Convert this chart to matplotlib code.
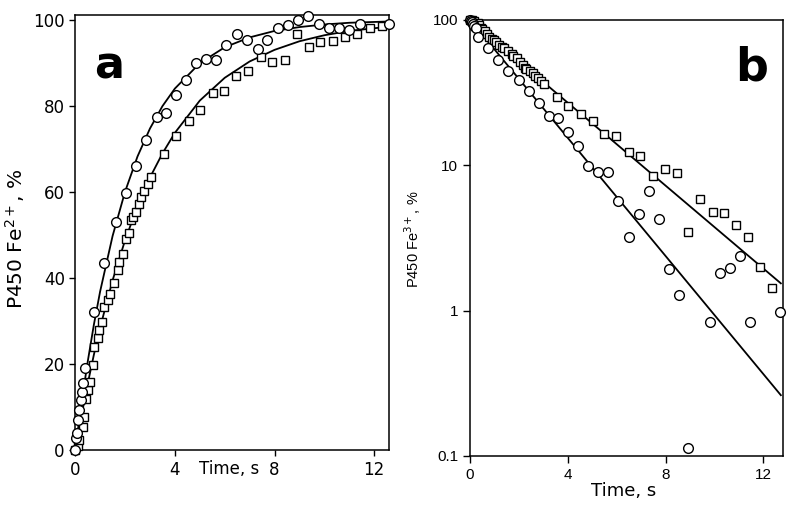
import matplotlib
matplotlib.use('Agg')
import matplotlib.pyplot as plt
import numpy as np

# panel a: reduction, % Fe2+
a_circ_t = [0.0, 0.04, 0.08, 0.13, 0.17, 0.24, 0.28, 0.32, 0.41, 0.77, 1.17, 1.64, 2.04, 2.44,
            2.84, 3.27, 3.64, 4.04, 4.44, 4.84, 5.24, 5.64, 6.04, 6.5, 6.9, 7.33, 7.7, 8.13,
            8.53, 8.93, 9.33, 9.8, 10.17, 10.57, 10.97, 11.41, 12.6]
a_circ_y = [0.0, 2.8, 4.0, 7.0, 9.3, 11.6, 13.6, 15.6, 19.2, 32.2, 43.6, 53.0, 59.8, 66.0,
            72.1, 77.4, 78.4, 82.6, 86.0, 90.0, 90.9, 90.7, 94.2, 96.9, 95.3, 93.2, 95.5, 98.2,
            98.8, 100.0, 100.9, 99.2, 98.1, 98.1, 97.8, 99.2, 99.0]
a_sq_t = [0.0, 0.1, 0.17, 0.31, 0.37, 0.44, 0.51, 0.61, 0.71, 0.77, 0.91, 0.97, 1.07, 1.17,
          1.31, 1.41, 1.57, 1.71, 1.77, 1.91, 2.04, 2.17, 2.24, 2.31, 2.44, 2.57, 2.64, 2.77,
          2.91, 3.04, 3.57, 4.04, 4.55, 5.01, 5.51, 5.97, 6.44, 6.93, 7.44, 7.91, 8.41, 8.91,
          9.37, 9.84, 10.35, 10.84, 11.31, 11.81, 12.31]
a_sq_y = [0.0, 1.0, 2.3, 5.4, 7.7, 12.0, 14.0, 15.9, 19.8, 24.0, 26.0, 27.9, 29.8, 33.2,
          35.0, 36.3, 38.8, 41.9, 43.8, 45.7, 49.0, 50.4, 53.5, 54.3, 55.4, 57.2, 58.9, 60.2,
          62.0, 63.6, 68.8, 73.0, 76.6, 79.1, 83.1, 83.6, 87.0, 88.1, 91.5, 90.3, 90.8, 96.7,
          93.8, 95.0, 95.2, 96.1, 96.7, 98.1, 98.6]
# fitted curves
a_fit_t = [0, 0.25, 0.5, 0.75, 1, 1.5, 2, 2.5, 3, 3.5, 4, 5, 6, 7, 8, 9, 10, 11, 12.6]
a_fit1_y = [0, 10.9, 20.5, 29.2, 36.9, 49.8, 60.1, 68.3, 74.8, 80.0, 84.1, 90.0, 93.7, 96.0,
            97.5, 98.4, 99.0, 99.4, 99.7]
a_fit2_y = [0, 8.0, 15.4, 22.2, 28.5, 39.5, 48.8, 56.7, 63.4, 69.0, 73.8, 81.3, 86.6, 90.4,
            93.1, 95.1, 96.5, 97.5, 98.5]

# panel b: remaining Fe3+, %
b_circ_t = [0.0, 0.04, 0.08, 0.13, 0.17, 0.24, 0.34, 0.74, 1.15, 1.55, 2.0, 2.4, 2.81, 3.24,
            3.61, 4.03, 4.43, 4.84, 5.24, 5.65, 6.05, 6.49, 6.93, 7.34, 7.74, 8.15, 8.55,
            8.92, 9.84, 10.24, 10.65, 11.05, 11.46, 12.68]
b_circ_y = [100, 98, 96, 93, 91, 88.4, 76.8, 63.9, 53.1, 44.8, 38.6, 32.6, 26.7, 21.8,
            21.1, 16.8, 13.6, 9.9, 9.0, 9.0, 5.7, 3.2, 4.6, 6.6, 4.3, 1.92, 1.28,
            0.114, 0.83, 1.81, 1.95, 2.38, 0.84, 0.98]
b_sq_t = [0.0, 0.07, 0.17, 0.31, 0.37, 0.44, 0.51, 0.61, 0.71, 0.77, 0.91, 0.97, 1.07, 1.17,
          1.31, 1.41, 1.57, 1.71, 1.77, 1.91, 2.04, 2.17, 2.24, 2.31, 2.44, 2.57, 2.64, 2.77,
          2.91, 3.04, 3.54, 4.03, 4.53, 5.03, 5.5, 5.99, 6.49, 6.96, 7.47, 7.97, 8.47, 8.92,
          9.43, 9.93, 10.41, 10.9, 11.39, 11.86, 12.36]
b_sq_y = [100, 99, 97.7, 94.6, 92.3, 88, 86, 84.1, 80.2, 76, 74, 72.1, 70.2, 66.8,
          65, 63.7, 61.2, 58.1, 56.2, 54.3, 51, 48.8, 46.5, 45.7, 44.6, 42.8, 41.1, 39.8,
          38, 36.4, 29.4, 25.6, 22.4, 20.3, 16.3, 15.9, 12.4, 11.5, 8.4, 9.4, 8.8, 3.46,
          5.9, 4.8, 4.7, 3.9, 3.2, 2.0, 1.44]
b_fit_t = [0, 12.72]
b_fit1_y = [100, 0.262]
b_fit2_y = [100, 1.54]

fig = plt.figure(figsize=(8, 5.18), dpi=100)
axa = fig.add_axes([0.094, 0.131, 0.3925, 0.840])
axb = fig.add_axes([0.5875, 0.1197, 0.391, 0.842])

mk = dict(linestyle='none', markerfacecolor='white', markeredgecolor='black', markeredgewidth=1.0)

# --- panel a
axa.plot(a_fit_t, a_fit1_y, color='black', lw=1.3, zorder=2)
axa.plot(a_fit_t, a_fit2_y, color='black', lw=1.3, zorder=2)
axa.plot(a_sq_t, a_sq_y, marker='s', markersize=6, zorder=3, clip_on=False, **mk)
axa.plot(a_circ_t, a_circ_y, marker='o', markersize=7, zorder=3, clip_on=False, **mk)
axa.set_xlim(0, 12.6)
axa.set_ylim(0, 101.2)
axa.set_xticks([0, 4, 8, 12])
axa.set_yticks([0, 20, 40, 60, 80, 100])
axa.tick_params(direction='out', length=4, width=1, labelsize=12, colors='black')
for tl in axa.get_xticklabels() + axa.get_yticklabels():
    tl.set_family('DejaVu Sans')
axa.set_xlabel('Time, s', fontsize=12)
axa.xaxis.set_label_coords(0.49, -0.022)
axa.xaxis.label.set_va('top')
axa.set_ylabel('P450 Fe$^{2+}$, %', fontsize=14.5)
axa.yaxis.set_label_coords(-0.153, 0.487)
axa.text(0.108, 0.855, 'a', transform=axa.transAxes, fontsize=32, fontweight='bold',
         ha='center', va='baseline')

# --- panel b
axb.semilogy(b_fit_t, b_fit1_y, color='black', lw=1.3, zorder=2)
axb.semilogy(b_fit_t, b_fit2_y, color='black', lw=1.3, zorder=2)
axb.plot(b_sq_t, b_sq_y, marker='s', markersize=6, zorder=3, clip_on=False, **mk)
axb.plot(b_circ_t, b_circ_y, marker='o', markersize=7, zorder=3, clip_on=False, **mk)
axb.set_xlim(0, 12.8)
axb.set_ylim(0.1, 100)
axb.set_xticks([0, 4, 8, 12])
axb.set_yticks([0.1, 1, 10, 100])
axb.set_yticklabels(['0.1', '1', '10', '100'])
axb.minorticks_off()
axb.tick_params(direction='out', length=5, width=1, labelsize=11)
for tl in axb.get_xticklabels() + axb.get_yticklabels():
    tl.set_family('Liberation Sans')
axb.set_xlabel('Time, s', fontsize=13)
axb.xaxis.set_label_coords(0.49, -0.06)
axb.xaxis.label.set_va('top')
axb.set_ylabel('P450 Fe$^{3+}$, %', fontsize=10.5, family='Liberation Sans')
axb.yaxis.set_label_coords(-0.15, 0.498)
axb.text(0.90, 0.862, 'b', transform=axb.transAxes, fontsize=33, fontweight='bold',
         ha='center', va='baseline')

for ax in (axa, axb):
    for s in ax.spines.values():
        s.set_linewidth(1.1)

plt.savefig('out.png', dpi=100)
